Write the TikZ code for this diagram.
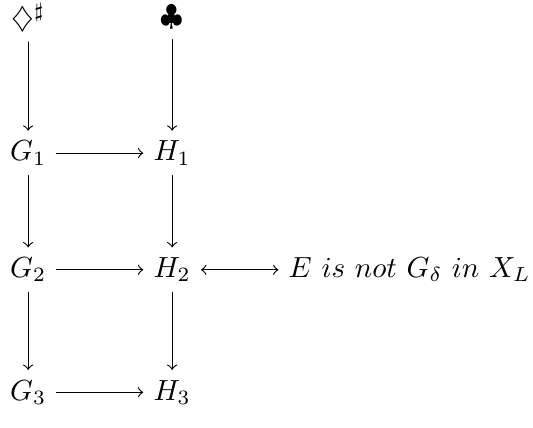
\documentclass[tikz,border=0pt]{standalone}
\usepackage{amssymb}
\begin{document}
\begin{tikzpicture}[>=to, line join=round, line cap=round]
	\def\xa{0.34} \def\xb{2.08} \def\xc{4.95} % columns
	\def\ya{-0.21} \def\yb{-1.85} \def\yc{-3.26} \def\yd{-4.74} % rows
	\useasboundingbox (0,0) rectangle (6.44,-5.17);
	\node (D) at (\xa,\ya) {$\diamondsuit^\sharp$};
	\node (C) at (\xb,\ya) {$\clubsuit$};
	\node (G1) at (\xa,\yb) {$G_1$};
	\node (H1) at (\xb,\yb) {$H_1$};
	\node (G2) at (\xa,\yc) {$G_2$};
	\node (H2) at (\xb,\yc) {$H_2$};
	\node (E) at (\xc,\yc) {$E\ is\ not\ G_\delta\ in\ X_L$};
	\node (G3) at (\xa,\yd) {$G_3$};
	\node (H3) at (\xb,\yd) {$H_3$};
	\draw[->] (D)--(G1);
	\draw[->] (C)--(H1);
	\draw[->] (G1)--(H1);
	\draw[->] (G1)--(G2);
	\draw[->] (H1)--(H2);
	\draw[->] (G2)--(H2);
	\draw[<->] (H2)--(E);
	\draw[->] (G2)--(G3);
	\draw[->] (H2)--(H3);
	\draw[->] (G3)--(H3);
\end{tikzpicture}
\end{document}
